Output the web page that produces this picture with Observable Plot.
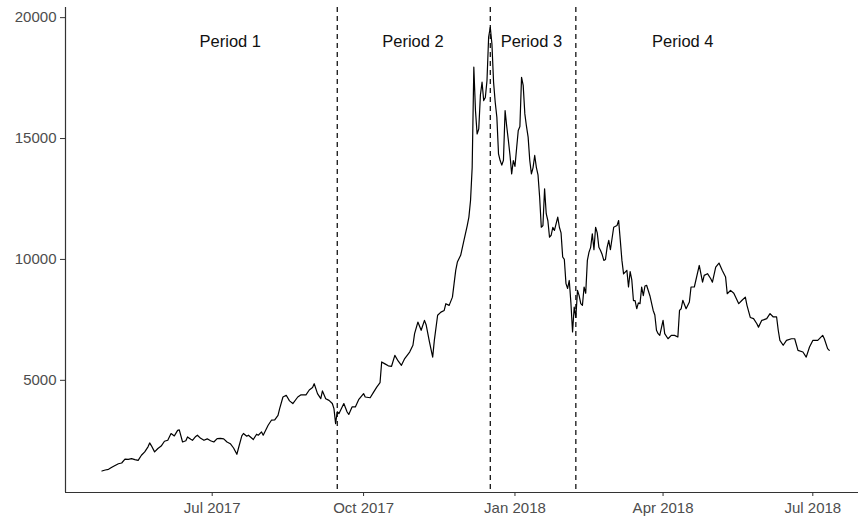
<!DOCTYPE html>
<html>
<head>
<meta charset="utf-8">
<script src="https://cdn.jsdelivr.net/npm/d3@7"></script>
<script src="https://cdn.jsdelivr.net/npm/@observablehq/plot@0.6"></script>
<style>
  html, body { margin: 0; padding: 0; background: #ffffff; }
  #chart { width: 858px; height: 520px; overflow: hidden; }
</style>
</head>
<body>
<div id="chart"></div>
<script>
// ---- data ----
const dates = [
  "2017-04-25","2017-04-27","2017-04-29",
  "2017-05-01","2017-05-03","2017-05-05","2017-05-07","2017-05-09","2017-05-11","2017-05-13","2017-05-15","2017-05-17","2017-05-19","2017-05-21","2017-05-23","2017-05-24","2017-05-25","2017-05-27","2017-05-29","2017-05-31",
  "2017-06-02","2017-06-04","2017-06-06","2017-06-08","2017-06-10","2017-06-11","2017-06-13","2017-06-15","2017-06-16","2017-06-18","2017-06-19","2017-06-21","2017-06-22","2017-06-24","2017-06-26","2017-06-28","2017-06-30",
  "2017-07-02","2017-07-04","2017-07-06","2017-07-08","2017-07-10","2017-07-12","2017-07-14","2017-07-16","2017-07-17","2017-07-19","2017-07-20","2017-07-22","2017-07-23","2017-07-26","2017-07-28","2017-07-29","2017-07-31",
  "2017-08-01","2017-08-04","2017-08-06","2017-08-08","2017-08-10","2017-08-11","2017-08-13","2017-08-15","2017-08-17","2017-08-19","2017-08-22","2017-08-24","2017-08-27","2017-08-29","2017-08-31",
  "2017-09-01","2017-09-03","2017-09-05","2017-09-06","2017-09-08","2017-09-10","2017-09-12","2017-09-13","2017-09-14","2017-09-15","2017-09-16","2017-09-19","2017-09-21","2017-09-22","2017-09-24","2017-09-26","2017-09-28",
  "2017-10-01","2017-10-02","2017-10-05","2017-10-07","2017-10-09","2017-10-11","2017-10-12","2017-10-14","2017-10-16","2017-10-18","2017-10-20","2017-10-22","2017-10-24","2017-10-26","2017-10-29","2017-10-31",
  "2017-11-01","2017-11-03","2017-11-05","2017-11-07","2017-11-08","2017-11-10","2017-11-12","2017-11-13","2017-11-15","2017-11-17","2017-11-19","2017-11-20","2017-11-22","2017-11-24","2017-11-25","2017-11-26","2017-11-27","2017-11-29",
  "2017-12-01","2017-12-03","2017-12-04","2017-12-05","2017-12-06","2017-12-07","2017-12-08","2017-12-09","2017-12-10","2017-12-11","2017-12-12","2017-12-13","2017-12-14","2017-12-15","2017-12-16","2017-12-17","2017-12-18","2017-12-19","2017-12-20","2017-12-21","2017-12-22","2017-12-23","2017-12-24","2017-12-25","2017-12-26","2017-12-27","2017-12-28","2017-12-29","2017-12-30","2017-12-31",
  "2018-01-01","2018-01-02","2018-01-03","2018-01-04","2018-01-05","2018-01-06","2018-01-07","2018-01-08","2018-01-09","2018-01-10","2018-01-11","2018-01-12","2018-01-13","2018-01-14","2018-01-15","2018-01-16","2018-01-17","2018-01-18","2018-01-19","2018-01-20","2018-01-21","2018-01-22","2018-01-23","2018-01-24","2018-01-25","2018-01-27","2018-01-28","2018-01-29","2018-01-30","2018-01-31",
  "2018-02-01","2018-02-02","2018-02-03","2018-02-04","2018-02-05","2018-02-06","2018-02-07","2018-02-08","2018-02-09","2018-02-10","2018-02-11","2018-02-12","2018-02-13","2018-02-14","2018-02-15","2018-02-16","2018-02-17","2018-02-18","2018-02-19","2018-02-20","2018-02-21","2018-02-22","2018-02-23","2018-02-24","2018-02-25","2018-02-26","2018-02-27","2018-02-28",
  "2018-03-02","2018-03-04","2018-03-05","2018-03-06","2018-03-07","2018-03-08","2018-03-10","2018-03-11","2018-03-12","2018-03-13","2018-03-14","2018-03-15","2018-03-16","2018-03-17","2018-03-18","2018-03-19","2018-03-20","2018-03-21","2018-03-22","2018-03-24","2018-03-26","2018-03-27","2018-03-28","2018-03-29","2018-03-30",
  "2018-04-01","2018-04-02","2018-04-04","2018-04-06","2018-04-08","2018-04-10","2018-04-11","2018-04-12","2018-04-13","2018-04-15","2018-04-17","2018-04-18","2018-04-20","2018-04-23","2018-04-25","2018-04-26","2018-04-28","2018-04-30",
  "2018-05-01","2018-05-03","2018-05-05","2018-05-07","2018-05-09","2018-05-10","2018-05-12","2018-05-14","2018-05-17","2018-05-19","2018-05-21","2018-05-22","2018-05-24","2018-05-26","2018-05-28","2018-05-29","2018-05-31",
  "2018-06-01","2018-06-03","2018-06-05","2018-06-07","2018-06-09","2018-06-10","2018-06-11","2018-06-13","2018-06-15","2018-06-18","2018-06-20","2018-06-22","2018-06-25","2018-06-27","2018-06-29",
  "2018-07-01","2018-07-04","2018-07-07","2018-07-08","2018-07-10","2018-07-11"
];
const prices = [
  1250,1290,1320,
  1400,1480,1550,1580,1740,1730,1760,1720,1690,1900,2040,2250,2410,2300,2040,2180,2280,
  2480,2520,2800,2700,2930,2950,2450,2500,2660,2560,2520,2680,2730,2600,2520,2580,2500,
  2450,2590,2600,2580,2450,2380,2200,1940,2200,2700,2800,2690,2730,2550,2770,2730,2865,
  2730,3140,3350,3360,3550,3830,4310,4380,4150,4040,4310,4400,4400,4600,4700,
  4860,4450,4240,4560,4240,4170,4040,3830,3210,3700,3620,4040,3690,3590,3900,3900,4200,
  4450,4310,4280,4500,4720,4900,5760,5680,5600,5580,6030,5800,5620,5900,6170,6450,
  6930,7410,7070,7480,7300,6600,5960,6650,7690,7820,7890,8170,8100,8440,9000,9550,9890,10170,
  10790,11400,11750,12440,13810,17950,16160,15190,15400,16800,17330,16570,16700,17400,19200,19600,18910,17330,16500,15880,14370,14090,13900,14100,16160,15500,14920,14300,13540,14090,
  13850,14600,15330,15500,17530,17200,16020,15500,15060,14090,13540,13800,14300,13810,13500,12570,11330,11400,12920,11890,11600,10920,11000,11330,11200,11750,11330,11100,10100,10000,
  9000,8800,9130,8200,7000,8030,7600,8720,8500,8170,8100,8860,8600,9960,10300,10500,11060,10400,11330,11100,10500,10370,10200,9960,10000,10500,10790,10400,
  11330,11400,11610,10800,9960,9400,9550,8860,9500,9150,8300,8300,7960,8200,8170,8860,8500,8900,8930,8500,7890,7700,7070,6930,6860,
  7480,6930,6720,6860,6860,6790,7890,7960,8310,7960,8240,8860,8860,9750,9060,9340,9410,9200,
  9060,9680,9850,9540,9270,8580,8720,8600,8170,8310,8440,8100,7600,7550,7340,7200,7480,
  7500,7550,7760,7620,7620,7070,6650,6450,6650,6720,6720,6240,6170,5960,6380,
  6650,6650,6860,6720,6310,6240
];
const periodBreaks = ["2017-09-15","2017-12-17","2018-02-07"];
const periodLabels = ["Period 1","Period 2","Period 3","Period 4"];
const periodLabelDates = ["2017-07-12","2017-10-31","2018-01-11","2018-04-13"];
const periodLabelY = 19000;
const xTickDates = ["2017-07-01","2017-10-01","2018-01-01","2018-04-01","2018-07-01"];
const yTicks = [5000, 10000, 15000, 20000];

// ---- build tables ----
const series = dates.map((d, i) => ({date: new Date(d), price: prices[i]}));
const breaks = periodBreaks.map(d => new Date(d));
const labels = periodLabels.map((t, i) => ({text: t, date: new Date(periodLabelDates[i]), y: periodLabelY}));
const xTicks = xTickDates.map(d => new Date(d));

const xDomain = [new Date("2017-04-02T20:30:00Z"), new Date("2018-07-28T18:30:00Z")];
const yDomain = [360, 20420];
const font = "'Liberation Sans', Arial, Helvetica, sans-serif";

const chart = Plot.plot({
  width: 858,
  height: 520,
  marginLeft: 65,
  marginRight: 0,
  marginTop: 7,
  marginBottom: 28,
  style: {fontFamily: font, fontSize: "15px", color: "#4d4d4d", background: "#ffffff"},
  x: {type: "utc", domain: xDomain},
  y: {domain: yDomain},
  marks: [
    Plot.ruleX(breaks, {stroke: "black", strokeWidth: 1.2, strokeDasharray: "5,4"}),
    Plot.lineY(series, {x: "date", y: "price", stroke: "black", strokeWidth: 1.2}),
    Plot.text(labels, {x: "date", y: "y", text: "text", fill: "#111", fontSize: 16.5}),
    Plot.axisX({ticks: xTicks, tickFormat: d3.utcFormat("%b %Y"), tickSize: 4, tickPadding: 6, label: null, stroke: "#333", fill: "#4d4d4d", fontSize: 15}),
    Plot.axisY({ticks: yTicks, tickFormat: d => String(d), tickSize: 5, tickPadding: 4, label: null, stroke: "#333", fill: "#4d4d4d", fontSize: 15}),
    Plot.ruleY([yDomain[0]], {stroke: "#333", strokeWidth: 1.2}),
    Plot.ruleX([xDomain[0]], {stroke: "#333", strokeWidth: 1.2})
  ]
});
document.getElementById("chart").appendChild(chart);
</script>
</body>
</html>
